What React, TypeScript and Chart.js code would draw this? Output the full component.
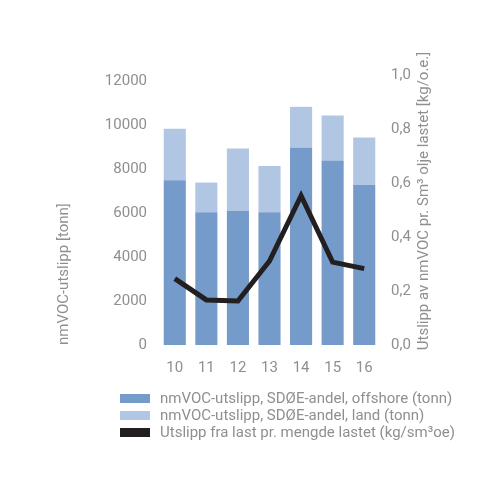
import { useEffect, useRef } from 'react';
import { Chart, registerables } from 'chart.js';

Chart.register(...registerables);

const years = ['10', '11', '12', '13', '14', '15', '16'];
const offshore = [7500, 6050, 6100, 6050, 9000, 8400, 7300];
const land = [2350, 1350, 2850, 2100, 1850, 2050, 2150];
const lastet = [0.246, 0.167, 0.163, 0.311, 0.553, 0.307, 0.283];

const leftTicks = [0, 2000, 4000, 6000, 8000, 10000, 12000];
const rightTicks = [0, 0.2, 0.4, 0.6, 0.8, 1.0];

const seriesNames = [
  'nmVOC-utslipp, SDØE-andel, offshore (tonn)',
  'nmVOC-utslipp, SDØE-andel, land (tonn)',
  'Utslipp fra last pr. mengde lastet (kg/sm³oe)',
];
const seriesColors = ['#759bca', '#b1c6e3', '#231f20'];

const leftTitle = 'nmVOC-utslipp [tonn]';
const rightTitle = 'Utslipp av nmVOC pr. Sm³ olje lastet [kg/o.e.]';

const grey = '#8f8f8f';
const font = { family: 'Roboto', size: 15 };

const rightTitlePlugin = {
  id: 'rightTitle',
  afterDraw(chart: Chart) {
    const ctx = chart.ctx;
    ctx.save();
    ctx.translate(424, 201);
    ctx.rotate(-Math.PI / 2);
    ctx.font = '15px Roboto';
    ctx.fillStyle = grey;
    ctx.textAlign = 'center';
    ctx.textBaseline = 'middle';
    ctx.fillText(rightTitle, 0, 0);
    ctx.restore();
  },
};

export default function App() {
  const canvasRef = useRef<HTMLCanvasElement>(null);

  useEffect(() => {
    const canvas = canvasRef.current;
    if (!canvas) return;
    const chart = new Chart(canvas, {
      type: 'bar',
      data: {
        labels: years,
        datasets: [
          {
            type: 'line',
            label: seriesNames[2],
            data: lastet,
            yAxisID: 'y1',
            borderColor: seriesColors[2],
            backgroundColor: seriesColors[2],
            borderWidth: 5,
            pointRadius: 0,
            order: 0,
          },
          {
            label: seriesNames[0],
            data: offshore,
            yAxisID: 'y',
            backgroundColor: seriesColors[0],
            order: 1,
          },
          {
            label: seriesNames[1],
            data: land,
            yAxisID: 'y',
            backgroundColor: seriesColors[1],
            order: 1,
          },
        ],
      },
      options: {
        animation: false,
        responsive: false,
        layout: { padding: { left: 0, right: 0, top: 75, bottom: 0 } },
        datasets: { bar: { barPercentage: 0.7, categoryPercentage: 1 } },
        plugins: { legend: { display: false }, tooltip: { enabled: false } },
        scales: {
          x: {
            stacked: true,
            grid: { display: false },
            border: { display: false },
            ticks: { color: grey, font, padding: 6 },
            afterFit: (s: any) => { s.height = 155; },
          },
          y: {
            stacked: true,
            position: 'left',
            min: 0,
            max: 12300,
            grid: { display: false },
            border: { display: false },
            afterBuildTicks: (s: any) => {
              s.ticks = leftTicks.map((value) => ({ value }));
            },
            ticks: {
              color: grey,
              font,
              padding: 4,
              autoSkip: false,
              callback: (v: any) => String(v),
            },
            title: {
              display: true,
              text: leftTitle,
              color: grey,
              font,
              align: 'start',
              padding: { top: 55, bottom: 0 },
            },
            afterFit: (s: any) => { s.width = 159; },
          },
          y1: {
            position: 'right',
            min: 0,
            max: 1,
            grid: { display: false },
            border: { display: false },
            afterBuildTicks: (s: any) => {
              s.ticks = rightTicks.map((value) => ({ value }));
            },
            ticks: {
              color: grey,
              font,
              padding: 3,
              autoSkip: false,
              callback: (v: any) => Number(v).toFixed(1).replace('.', ','),
            },
            afterFit: (s: any) => { s.width = 120; },
          },
        },
      },
      plugins: [rightTitlePlugin],
    });
    return () => {
      chart.destroy();
    };
  }, []);

  const legendOrder = [0, 1, 2];

  return (
    <div style={{ position: 'absolute', left: 0, top: 0, width: 500, height: 500, background: '#fff' }}>
      <canvas ref={canvasRef} width={500} height={500} style={{ width: 500, height: 500 }} />
      <div
        style={{
          position: 'absolute',
          left: 120,
          top: 390,
          fontFamily: 'Roboto',
          fontSize: 15,
          color: grey,
          lineHeight: '17px',
        }}
      >
        {legendOrder.map((i) => (
          <div key={i} style={{ display: 'flex', alignItems: 'center', height: 17 }}>
            <span style={{ display: 'inline-block', width: 30, height: 9, background: seriesColors[i], marginRight: 10 }} />
            <span style={{ whiteSpace: 'nowrap' }}>{seriesNames[i]}</span>
          </div>
        ))}
      </div>
    </div>
  );
}
